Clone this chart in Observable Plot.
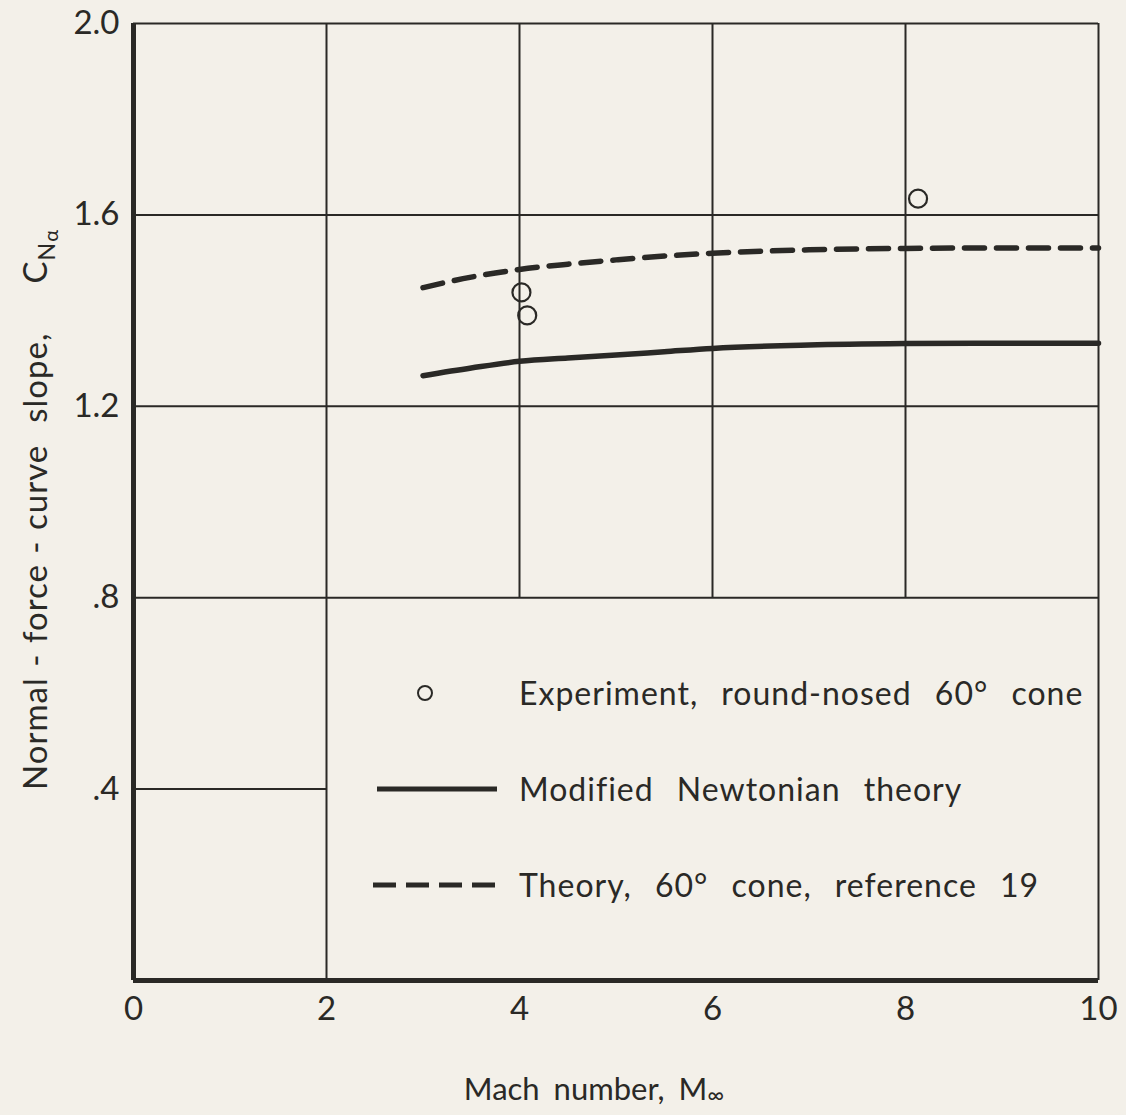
<!DOCTYPE html>
<html><head><meta charset="utf-8">
<script src="https://cdn.jsdelivr.net/npm/d3@7"></script>
<script src="https://cdn.jsdelivr.net/npm/@observablehq/plot@0.6"></script>
<style>
html,body{margin:0;padding:0;background:#f3f0e9;}
#chart{position:relative;width:1126px;height:1115px;overflow:hidden;}
</style></head><body><div id="chart"></div>
<script>
// ---- data ----
const machTicks = [0, 2, 4, 6, 8, 10];
const cnTicks = [0.4, 0.8, 1.2, 1.6, 2.0];
const cnTickLabels = [".4", ".8", "1.2", "1.6", "2.0"];

// Modified Newtonian theory (solid)
const newtonMach = [3.0, 3.5, 4.0, 4.5, 5.0, 5.5, 6.0, 7.0, 8.0, 9.0, 10.0];
const newtonCN   = [1.264, 1.280, 1.294, 1.301, 1.307, 1.314, 1.321, 1.328, 1.331, 1.332, 1.332];

// Theory, 60° cone, reference 19 (dashed)
const refMach = [3.0, 3.5, 4.0, 4.5, 5.0, 5.5, 6.0, 7.0, 8.0, 9.0, 10.0];
const refCN   = [1.448, 1.470, 1.486, 1.497, 1.506, 1.514, 1.520, 1.527, 1.530, 1.531, 1.531];

// Experiment, round-nosed 60° cone (circles)
const expMach = [4.02, 4.08, 8.13];
const expCN   = [1.438, 1.390, 1.634];

// grid segments (data units)
const hGridY  = [1.6, 1.2, 0.8, 0.4];
const hGridX2 = [10, 10, 10, 2];
const vGridX  = [2, 4, 6, 8];
const vGridY1 = [0, 0.8, 0.8, 0.8];

const legendLabels = [
  "Experiment, round-nosed 60° cone",
  "Modified Newtonian theory",
  "Theory, 60° cone, reference 19"
];
const xLabel = "Mach number, M";
const yLabelParts = ["Normal - force - curve", "slope,"];

// ---- build tables ----
const newton = newtonMach.map((m, i) => ({m, c: newtonCN[i]}));
const ref = refMach.map((m, i) => ({m, c: refCN[i]}));
const exp = expMach.map((m, i) => ({m, c: expCN[i]}));
const hGrid = hGridY.map((y, i) => ({y, x1: 0, x2: hGridX2[i]}));
const vGrid = vGridX.map((x, i) => ({x, y1: vGridY1[i], y2: 2}));

const ink = "#2a2926";
const font = "Lato, 'Open Sans', sans-serif";

const plot = Plot.plot({
  width: 1126, height: 1115,
  marginLeft: 133, marginRight: 28, marginTop: 23, marginBottom: 135,
  style: {background: "transparent", fontFamily: font, fontSize: "33px", color: ink},
  x: {domain: [0, 10], ticks: machTicks, tickSize: 0, tickPadding: 16, tickFormat: d => String(d), label: null},
  y: {domain: [0, 2], ticks: cnTicks, tickSize: 0, tickPadding: 14,
      tickFormat: d => cnTickLabels[cnTicks.findIndex(t => Math.abs(t - d) < 1e-9)], label: null},
  marks: [
    Plot.ruleY(hGrid, {y: "y", x1: "x1", x2: "x2", stroke: ink, strokeWidth: 2}),
    Plot.ruleX(vGrid, {x: "x", y1: "y1", y2: "y2", stroke: ink, strokeWidth: 2}),
    Plot.ruleY([2], {stroke: ink, strokeWidth: 2}),
    Plot.ruleX([10], {stroke: ink, strokeWidth: 2}),
    Plot.ruleX([0], {stroke: ink, strokeWidth: 5}),
    Plot.ruleY([0], {x1: 0, x2: 10, stroke: ink, strokeWidth: 5}),
    Plot.line(newton, {x: "m", y: "c", stroke: ink, strokeWidth: 5.5, curve: "monotone-x"}),
    Plot.line(ref, {x: "m", y: "c", stroke: ink, strokeWidth: 5.5, strokeDasharray: "20,12", curve: "monotone-x"}),
    Plot.dot(exp, {x: "m", y: "c", r: 9, stroke: ink, strokeWidth: 2.2, fill: "none"})
  ]
});
document.getElementById("chart").appendChild(plot);

// ---- axis titles and legend ----
const svg = d3.select(plot);
const yt = svg.append("text")
  .attr("transform", "translate(47,790) rotate(-90)")
  .attr("text-anchor", "start")
  .attr("font-family", font).attr("font-size", 33).attr("fill", ink)
  .attr("letter-spacing", 1).attr("word-spacing", 1);
yt.append("tspan").text(yLabelParts[0]);
yt.append("tspan").attr("dx", 22).text(yLabelParts[1]);
yt.append("tspan").attr("dx", 50).text("C");
yt.append("tspan").attr("font-size", 23).attr("dy", 8).text("N");
yt.append("tspan").attr("font-size", 20).attr("dy", 3).text("α");

const xt = svg.append("text")
  .attr("x", 594).attr("y", 1100)
  .attr("text-anchor", "middle")
  .attr("font-family", font).attr("font-size", 31).attr("fill", ink)
  .attr("word-spacing", 6);
xt.append("tspan").text(xLabel);
xt.append("tspan").attr("font-size", 23).attr("dy", 3).text("∞");

const lg = svg.append("g").attr("font-family", font).attr("font-size", 32).attr("fill", ink)
  .attr("text-anchor", "start").attr("letter-spacing", 1).attr("word-spacing", 14);
const rowsY = [693, 789, 885];
lg.append("circle").attr("cx", 425).attr("cy", rowsY[0]).attr("r", 7).attr("fill", "none").attr("stroke", ink).attr("stroke-width", 2);
lg.append("line").attr("x1", 377).attr("x2", 497).attr("y1", rowsY[1]).attr("y2", rowsY[1]).attr("stroke", ink).attr("stroke-width", 5);
lg.append("line").attr("x1", 373).attr("x2", 497).attr("y1", rowsY[2]).attr("y2", rowsY[2]).attr("stroke", ink).attr("stroke-width", 5).attr("stroke-dasharray", "23,10");
legendLabels.forEach((t, i) => {
  lg.append("text").attr("x", 519).attr("y", rowsY[i]).attr("dy", "0.36em").text(t);
});
</script>
</body></html>
